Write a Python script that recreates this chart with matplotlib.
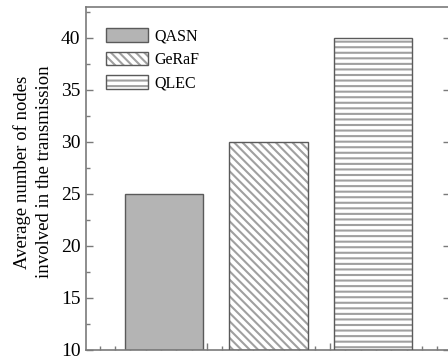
import matplotlib
matplotlib.use("Agg")
import matplotlib.pyplot as plt
from matplotlib.patches import Patch
from matplotlib.legend_handler import HandlerTuple
from matplotlib.ticker import MultipleLocator, FixedLocator
import numpy as np

# ---- data ----
methods = ["QASN", "GeRaF", "QLEC"]
avg_nodes = [25, 30, 40]
y_ticks = [10, 15, 20, 25, 30, 35, 40]
y_label = "Average number of nodes\ninvolved in the transmission"

plt.rcParams["font.family"] = ["Liberation Serif", "DejaVu Serif"]
plt.rcParams["hatch.linewidth"] = 1.5

W, H = 448, 361
fig = plt.figure(figsize=(W / 100, H / 100), dpi=100)
ax_left, ax_right, ax_top, ax_bottom = 86, 450, 7, 350
ax = fig.add_axes([ax_left / W, 1 - ax_bottom / H, (ax_right - ax_left) / W, (ax_bottom - ax_top) / H])

spine_col = "#7a7a7a"
edge_col = "#5a5a5a"
hatch_col = "#a0a0a0"
face_cols = ["#b4b4b4", "white", "white"]
hatches = [None, "\\\\\\\\", "---"]

x = np.arange(1, len(methods) + 1)
width = 0.75
handles = []
for xi, v, fc, h in zip(x, avg_nodes, face_cols, hatches):
    if h is None:
        ax.bar(xi, v - 10, width, bottom=10, color=fc, edgecolor=edge_col, linewidth=1.0, zorder=2)
        handles.append(Patch(facecolor=fc, edgecolor=edge_col, linewidth=1.0))
    else:
        ax.bar(xi, v - 10, width, bottom=10, color=fc, edgecolor=hatch_col, hatch=h, linewidth=0, zorder=2)
        ax.bar(xi, v - 10, width, bottom=10, fill=False, edgecolor=edge_col, linewidth=1.0, zorder=3)
        handles.append((Patch(facecolor=fc, edgecolor=hatch_col, hatch=h, linewidth=0),
                        Patch(fill=False, edgecolor=edge_col, linewidth=1.0)))

ax.set_ylim(10, 10 + (ax_bottom - ax_top) / 10.4)
px_per_unit = 104.5
x0 = 1 - (164 - ax_left) / px_per_unit
ax.set_xlim(x0, x0 + (ax_right - ax_left) / px_per_unit)

step = 0.5875
majors = [2 + k * step for k in range(-3, 4)]
minors = [2 + k * step / 4 for k in range(-12, 12)]
ax.xaxis.set_major_locator(FixedLocator(majors))
ax.xaxis.set_minor_locator(FixedLocator(minors))
ax.set_xticklabels([""] * len(majors))
ax.yaxis.set_major_locator(FixedLocator(y_ticks))
ax.yaxis.set_minor_locator(MultipleLocator(2.5))

for s in ax.spines.values():
    s.set_color(spine_col)
    s.set_linewidth(1.2)

ax.tick_params(axis="both", which="major", direction="in", length=5, width=1.0, color=spine_col,
               labelsize=14, pad=4)
ax.tick_params(axis="both", which="minor", direction="in", length=3, width=1.0, color=spine_col)
ax.tick_params(axis="y", which="major", right=True)
ax.tick_params(axis="y", which="minor", right=False)
ax.tick_params(axis="x", which="both", top=False)

fig.text(33 / W, 1 - 172 / H, y_label, rotation=90, ha="center", va="center",
         fontsize=13.5, linespacing=1.4)

leg = ax.legend(handles, methods, handler_map={tuple: HandlerTuple(ndivide=1, pad=0)},
                loc="upper left", bbox_to_anchor=(106 / W, 1 - 28 / H),
                bbox_transform=fig.transFigure, frameon=False, fontsize=11.5,
                handlelength=2.6, handleheight=0.95, handletextpad=0.45,
                labelspacing=0.45, borderpad=0, borderaxespad=0)

fig.savefig("out.png", dpi=100)
